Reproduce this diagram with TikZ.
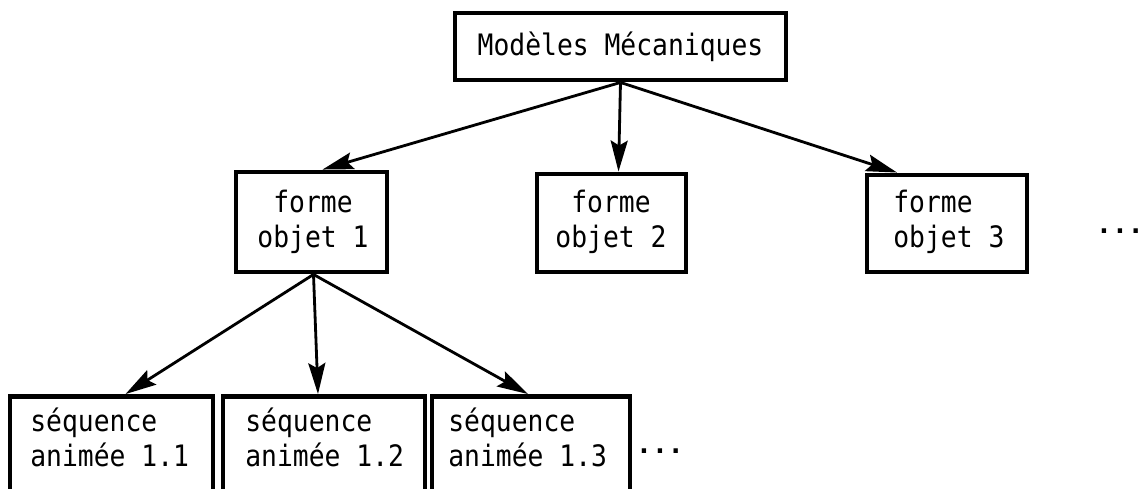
\documentclass[tikz,border=0pt]{standalone}
\usepackage{graphicx}
\usepackage{fontspec}
\setmonofont{DejaVu Sans Mono}
\usetikzlibrary{arrows.meta}
\newcommand\tallt[1]{\scalebox{1}[1.12]{#1}}
\begin{document}
\begin{tikzpicture}[x=0.02cm,y=-0.02cm,
  box/.style={draw, line width=2.8pt, inner sep=0pt},
  lbl/.style={font=\ttfamily\fontsize{15}{20}\selectfont, inner sep=0pt},
  arr/.style={line width=1.6pt, -{Stealth[length=0.62cm,width=0.34cm,inset=0.1cm]}}]
\useasboundingbox (0,0) rectangle (1147,488);
% top
\node[box, minimum width=6.62cm, minimum height=1.34cm, lbl] (top) at (620.5,46.5) {\tallt{Modèles Mécaniques}};
% middle row
\node[box, minimum width=3.02cm, minimum height=2.0cm] (f1) at (311.5,222) {};
\node[lbl, align=center] (t1) at (313,222) {\tallt{forme}\\\tallt{objet 1}};
\node[box, minimum width=2.98cm, minimum height=1.96cm] (f2) at (611.5,223) {};
\node[lbl, align=center] (t2) at (611,222) {\tallt{forme}\\\tallt{objet 2}};
\node[box, minimum width=3.2cm, minimum height=1.94cm] (f3) at (947,223.5) {};
\node[lbl, align=left, anchor=west] (t3) at (893,222) {\tallt{forme}\\\tallt{objet 3}};
\node[lbl] (d1) at (1120,231) {\textbf{...}};
% bottom row
\node[box, minimum width=4.06cm, minimum height=1.9cm] (b1) at (111.5,444) {};
\node[lbl, align=left, anchor=west] (s1) at (30,437) {\tallt{séquence}\\\tallt{animée 1.1}};
\node[box, minimum width=4.04cm, minimum height=1.9cm] (b2) at (324,444) {};
\node[lbl, align=left, anchor=west] (s2) at (245,437) {\tallt{séquence}\\\tallt{animée 1.2}};
\node[box, minimum width=3.96cm, minimum height=1.9cm] (b3) at (531,444) {};
\node[lbl, align=left, anchor=west] (s3) at (448,437) {\tallt{séquence}\\\tallt{animée 1.3}};
\node[lbl] (d2) at (660,451) {\textbf{...}};
% arrows
\draw[arr] (top.south) -- ([xshift=0.22cm]f1.north);
\draw[arr] (top.south) -- ([xshift=0.14cm]f2.north);
\draw[arr] (top.south) -- ([xshift=-1.0cm]f3.north);
\draw[arr] ([xshift=0.04cm]f1.south) -- ([xshift=0.28cm]b1.north);
\draw[arr] ([xshift=0.04cm]f1.south) -- ([xshift=-0.12cm]b2.north);
\draw[arr] ([xshift=0.04cm]f1.south) -- ([xshift=-0.06cm]b3.north);
\end{tikzpicture}
\end{document}
